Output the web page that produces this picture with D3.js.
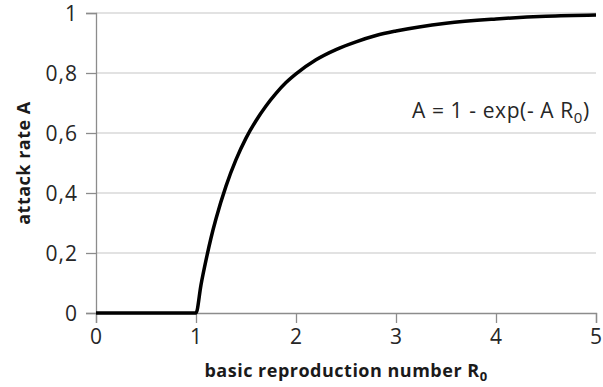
<html>
<head>
  <script src="https://d3js.org/d3.v7.min.js"></script>
  <style>
    body { margin: 0; background: white; }
    text { font-family: "Open Sans", sans-serif; }
  </style>
</head>
<body>
  <div id="chart"></div>
  <script>
    // values
    var r0Values = [0, 0.5, 1, 1.05, 1.1, 1.15, 1.2, 1.3, 1.4, 1.5, 1.6, 1.7, 1.8, 1.9, 2.0, 2.2, 2.4, 2.6, 2.8, 3.0, 3.5, 4.0, 4.5, 5.0];
    var attackValues = [0, 0, 0, 0.094, 0.176, 0.25, 0.314, 0.423, 0.511, 0.583, 0.641, 0.690, 0.732, 0.768, 0.797, 0.844, 0.878, 0.904, 0.925, 0.940, 0.966, 0.980, 0.989, 0.993];
    var xTicks = [0, 1, 2, 3, 4, 5];
    var yTicks = [0, 0.2, 0.4, 0.6, 0.8, 1];
    var yTickLabels = ["0", "0,2", "0,4", "0,6", "0,8", "1"];

    var width = 603, height = 387;
    var margin = {top: 13, right: 7, bottom: 74, left: 96};

    var svg = d3.select("#chart").append("svg")
      .attr("width", width)
      .attr("height", height);

    var x = d3.scaleLinear().domain([0, 5]).range([margin.left, width - margin.right]);
    var y = d3.scaleLinear().domain([0, 1]).range([height - margin.bottom, margin.top]);

    // gridlines
    svg.append("g").selectAll("line")
      .data(yTicks.filter(function(d){ return d > 0; }))
      .enter().append("line")
      .attr("x1", x(0)).attr("x2", x(5))
      .attr("y1", function(d){ return y(d); })
      .attr("y2", function(d){ return y(d); })
      .style("stroke", "#d9d9d9")
      .style("stroke-width", 1.3);

    // y axis
    var yAxis = d3.axisLeft(y)
      .tickValues(yTicks)
      .tickSize(10)
      .tickPadding(8)
      .tickFormat(function(d, i){ return yTickLabels[i]; });
    var gy = svg.append("g")
      .attr("transform", "translate(" + x(0) + ",0)")
      .call(yAxis);

    // x axis
    var xAxis = d3.axisBottom(x)
      .tickValues(xTicks)
      .tickSize(10)
      .tickPadding(6)
      .tickFormat(d3.format("d"));
    var gx = svg.append("g")
      .attr("transform", "translate(0," + y(0) + ")")
      .call(xAxis);

    [gx, gy].forEach(function(g){
      g.select(".domain").style("stroke", "#8c8c8c").style("stroke-width", 1.3);
      g.selectAll(".tick line").style("stroke", "#8c8c8c").style("stroke-width", 1.3);
      g.selectAll(".tick text")
        .style("font-family", "'Open Sans', sans-serif")
        .style("font-size", "21px")
        .style("letter-spacing", "1px")
        .style("fill", "#262626");
    });
    // keep top label inside the frame
    gy.selectAll(".tick text").attr("dy", "0.34em");

    // curve
    var points = r0Values.map(function(d, i){ return [d, attackValues[i]]; });
    var line = d3.line()
      .x(function(d){ return x(d[0]); })
      .y(function(d){ return y(d[1]); })
      .curve(d3.curveMonotoneX);
    svg.append("path")
      .datum(points)
      .attr("d", line)
      .style("fill", "none")
      .style("stroke", "black")
      .style("stroke-width", 3.5);

    // axis titles
    var xTitle = svg.append("text")
      .attr("x", (x(0) + x(5)) / 2)
      .attr("y", 377)
      .attr("text-anchor", "middle")
      .style("font-size", "18px")
      .style("font-weight", "bold")
      .style("letter-spacing", "0.5px")
      .style("fill", "#1a1a1a");
    xTitle.append("tspan").text("basic reproduction number R");
    xTitle.append("tspan").attr("dy", 4).style("font-size", "13px").text("0");

    svg.append("text")
      .attr("transform", "translate(30," + ((y(0) + y(1)) / 2) + ") rotate(-90)")
      .attr("text-anchor", "middle")
      .style("font-size", "18px")
      .style("font-weight", "bold")
      .style("letter-spacing", "0.5px")
      .style("fill", "#1a1a1a")
      .text("attack rate A");

    // formula annotation
    var note = svg.append("text")
      .attr("x", 412)
      .attr("y", 118)
      .style("font-size", "21px")
      .style("letter-spacing", "0.6px")
      .style("fill", "#262626");
    note.append("tspan").text("A = 1 - exp(- A R");
    note.append("tspan").attr("dy", 5).style("font-size", "15px").text("0");
    note.append("tspan").attr("dy", -5).text(")");
  </script>
</body>
</html>
